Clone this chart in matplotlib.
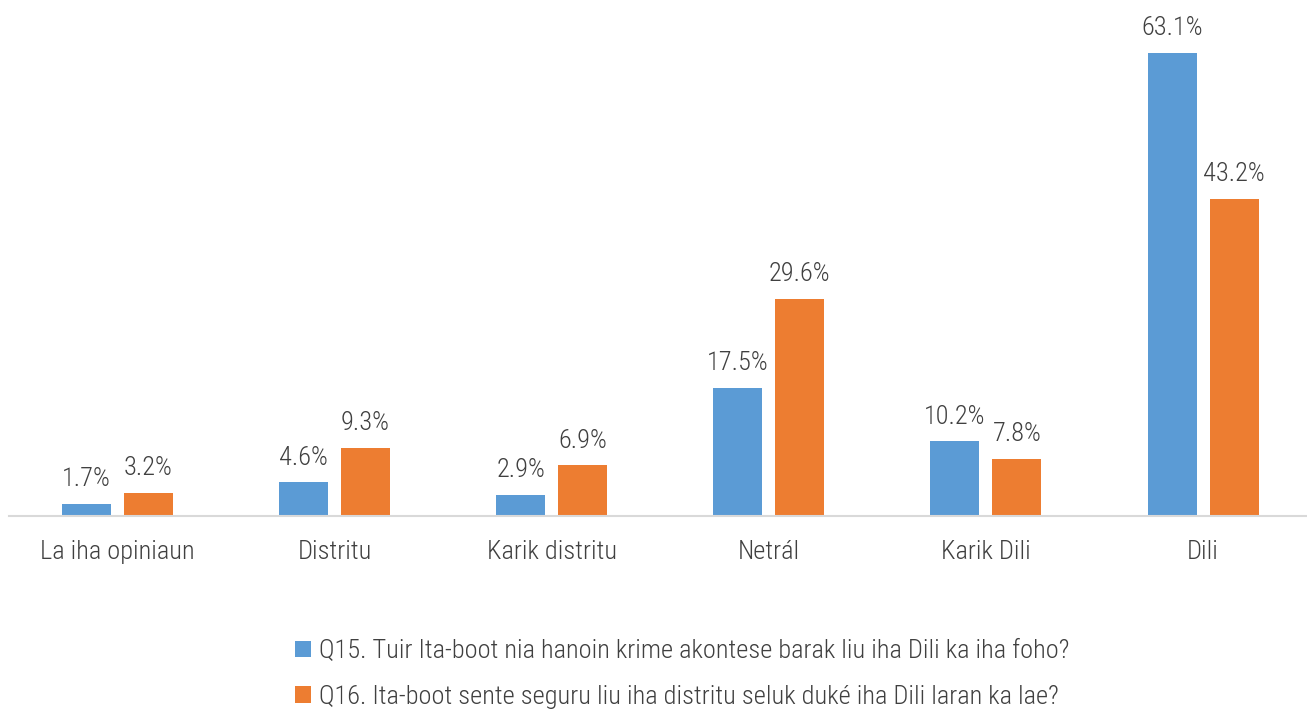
import matplotlib
matplotlib.use("Agg")
import matplotlib.pyplot as plt
import numpy as np

categories = ["La iha opiniaun", "Distritu", "Karik distritu", "Netrál", "Karik Dili", "Dili"]
q15 = [1.7, 4.6, 2.9, 17.5, 10.2, 63.1]
q16 = [3.2, 9.3, 6.9, 29.6, 7.8, 43.2]
series_names = [
    "Q15. Tuir Ita-boot nia hanoin krime akontese barak liu iha Dili ka iha foho?",
    "Q16. Ita-boot sente seguru liu iha distritu seluk duké iha Dili laran ka lae?",
]
colors = ["#5B9BD5", "#ED7D31"]
text_color = "#404040"

plt.rcParams['font.family'] = ['Roboto Condensed', 'Liberation Sans Narrow', 'Roboto', 'DejaVu Sans']

fig = plt.figure(figsize=(13.07, 7.09), dpi=100)
ax = fig.add_axes([8.9 / 1307, 1 - 516 / 709, (1311.6 - 8.9) / 1307, (516 - 2.3) / 709])

x = np.arange(len(categories))
w = 0.2257
off = 0.1428
b1 = ax.bar(x - off, q15, w, color=colors[0], label=series_names[0])
b2 = ax.bar(x + off, q16, w, color=colors[1], label=series_names[1])

for bars, vals in ((b1, q15), (b2, q16)):
    for r, v in zip(bars, vals):
        ax.annotate(f"{v:.1f}%", (r.get_x() + r.get_width() / 2, v), xytext=(0, 9),
                    textcoords="offset points", ha="center", va="bottom",
                    fontsize=19, color=text_color, fontweight="light")

ax.set_xlim(-0.5, 5.5)
ax.set_ylim(0, 70)
ax.set_yticks([])
ax.set_xticks(x)
ax.set_xticklabels(categories, fontsize=19, color=text_color, fontweight="light")
ax.tick_params(axis="x", length=0, pad=17)
for s in ("top", "right", "left"):
    ax.spines[s].set_visible(False)
ax.spines["bottom"].set_color("#D9D9D9")
ax.spines["bottom"].set_linewidth(1.5)

leg = fig.legend(handles=[b1, b2], labels=series_names, loc="center left",
                 bbox_to_anchor=(282 / 1307, 1 - 674 / 709), frameon=False,
                 prop={"size": 19, "weight": "light"}, labelcolor=text_color,
                 handlelength=0.6, handleheight=0.6, handletextpad=0.3,
                 labelspacing=0.82, borderpad=0)

fig.savefig("out.png", dpi=100)
